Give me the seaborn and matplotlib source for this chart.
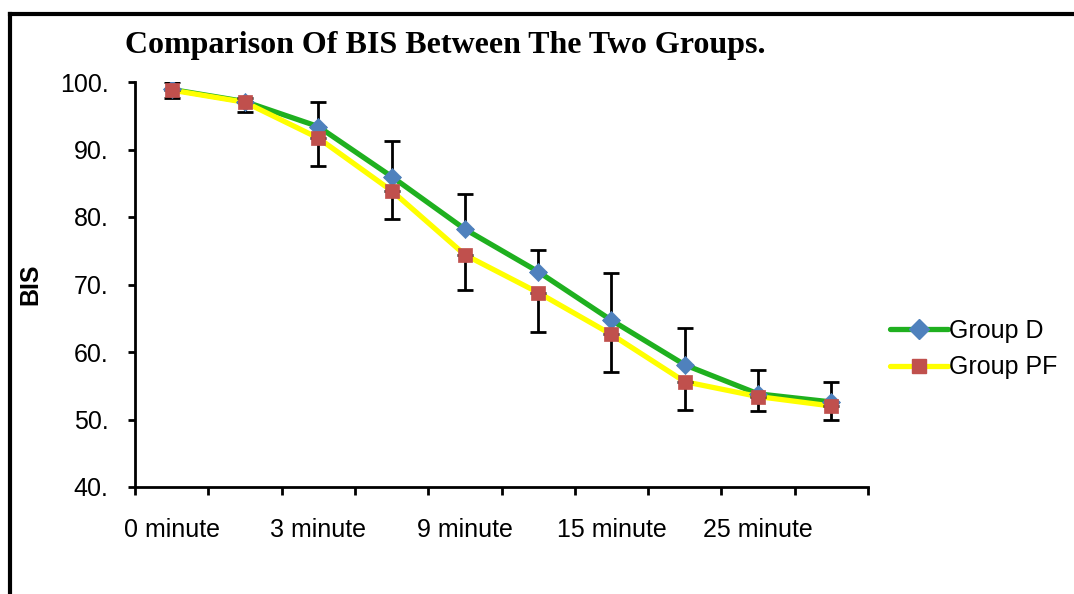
import matplotlib
matplotlib.use("Agg")
import matplotlib.pyplot as plt
from matplotlib.lines import Line2D
import numpy as np
import pandas as pd
import seaborn as sns

# Time points (only every other label is printed on the axis)
time_labels = ["0 minute", "1 minute", "3 minute", "6 minute", "9 minute",
               "12 minute", "15 minute", "20 minute", "25 minute", "30 minute"]

# Mean BIS per group
bis_d = [98.9, 97.1, 93.4, 86.0, 78.2, 71.9, 64.7, 58.1, 53.8, 52.6]
bis_pf = [98.8, 97.0, 91.7, 83.9, 74.4, 68.8, 62.6, 55.6, 53.4, 52.0]

# Standard deviations (Group D shown upward, Group PF downward)
sd_d = [1.1, 0.5, 3.7, 5.2, 5.2, 3.2, 7.0, 5.5, 3.5, 2.9]
sd_pf = [1.2, 1.4, 4.1, 4.2, 5.2, 5.8, 5.6, 4.2, 2.1, 2.0]

y_ticks = [40, 50, 60, 70, 80, 90, 100]
y_tick_labels = ["40.", "50.", "60.", "70.", "80.", "90.", "100."]

groups = ["Group D", "Group PF"]
line_colors = {"Group D": "#1FB01F", "Group PF": "#FFFF00"}
marker_colors = {"Group D": "#4F81BD", "Group PF": "#C0504D"}
marker_shapes = {"Group D": "D", "Group PF": "s"}

pos = np.arange(len(time_labels))
df = pd.concat([
    pd.DataFrame({"pos": pos, "BIS": bis_d, "Group": "Group D"}),
    pd.DataFrame({"pos": pos, "BIS": bis_pf, "Group": "Group PF"}),
], ignore_index=True)

sns.set_theme(style="white")
plt.rcParams["font.family"] = ["Liberation Sans", "DejaVu Sans"]
plt.rcParams["text.color"] = "black"
plt.rcParams["axes.labelcolor"] = "black"

fig = plt.figure(figsize=(10.74, 5.94), dpi=100)
ax = fig.add_axes([135 / 1074, 1 - 487 / 594, (868 - 135) / 1074, (487 - 82) / 594])

# Connecting lines
for g in groups:
    sns.lineplot(data=df[df["Group"] == g], x="pos", y="BIS", ax=ax,
                 color=line_colors[g], linewidth=3.8, legend=False,
                 zorder=2 if g == "Group D" else 2.5)

# One-sided SD error bars
ax.errorbar(pos, bis_d, yerr=[np.zeros(len(pos)), sd_d], fmt="none",
            ecolor="black", elinewidth=2.0, capsize=6, capthick=2.0, zorder=3)
ax.errorbar(pos, bis_pf, yerr=[sd_pf, np.zeros(len(pos))], fmt="none",
            ecolor="black", elinewidth=2.0, capsize=6, capthick=2.0, zorder=3)

# Markers
for g in groups:
    sub = df[df["Group"] == g]
    sns.scatterplot(data=sub, x="pos", y="BIS", ax=ax, marker=marker_shapes[g],
                    color=marker_colors[g], s=100 if g == "Group PF" else 85,
                    edgecolor=marker_colors[g], linewidth=0.5, legend=False,
                    zorder=4 if g == "Group D" else 5)

ax.set_xlim(-0.5, len(time_labels) - 0.5)
ax.set_ylim(40, 100)

# Category labels on every other point; tick marks between categories
ax.set_xticks(pos[::2])
ax.set_xticklabels(time_labels[::2])
ax.set_xticks(np.arange(-0.5, len(time_labels)), minor=True)
ax.tick_params(axis="x", which="major", length=0, pad=22, labelsize=18,
               colors="black", labelcolor="black")
ax.tick_params(axis="x", which="minor", length=6, width=2, direction="out",
               color="black", bottom=True)

ax.set_yticks(y_ticks)
ax.set_yticklabels(y_tick_labels)
ax.tick_params(axis="y", which="major", length=5, width=2, direction="out",
               pad=14, labelsize=18, colors="black", labelcolor="black", left=True)

ax.set_xlabel("")
ax.set_ylabel("BIS", fontsize=18, fontweight="bold", color="black", va="center")
ax.yaxis.set_label_coords((30 - 135) / (868 - 135), 0.5)

for side in ["top", "right"]:
    ax.spines[side].set_visible(False)
for side in ["left", "bottom"]:
    ax.spines[side].set_color("black")
    ax.spines[side].set_linewidth(2)
ax.grid(False)

fig.text(125 / 1074, 1 - 45 / 594, "Comparison Of BIS Between The Two Groups.",
         fontsize=23, fontweight="bold", family="Liberation Serif",
         color="black", ha="left", va="center")

handles = [
    Line2D([], [], color=line_colors[g], linewidth=3.8, marker=marker_shapes[g],
           markerfacecolor=marker_colors[g], markeredgecolor=marker_colors[g],
           markersize=10)
    for g in groups
]
fig.legend(handles, groups, loc="center left",
           bbox_to_anchor=(880 / 1074, 1 - 349 / 594), frameon=False,
           fontsize=18, handlelength=2.3, handletextpad=0.05, labelspacing=0.5,
           borderaxespad=0, labelcolor="black")

# Outer frame running off the right and bottom edges
fig.add_artist(Line2D([10 / 1074, 10 / 1074], [-0.05, 1 - 13.5 / 594],
                      transform=fig.transFigure, color="black", linewidth=3,
                      solid_capstyle="projecting"))
fig.add_artist(Line2D([10 / 1074, 1.05], [1 - 13.5 / 594, 1 - 13.5 / 594],
                      transform=fig.transFigure, color="black", linewidth=3,
                      solid_capstyle="projecting"))

fig.savefig("out.png", dpi=100, facecolor="white")
